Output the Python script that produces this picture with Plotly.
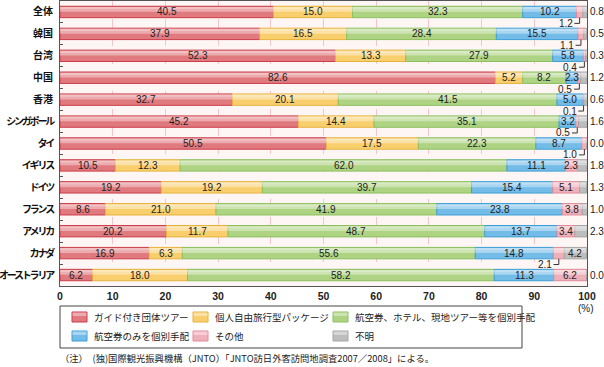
import plotly.graph_objects as go

countries = ["全体", "韓国", "台湾", "中国", "香港", "シンガポール", "タイ",
             "イギリス", "ドイツ", "フランス", "アメリカ", "カナダ", "オーストラリア"]
group_tour = [40.5, 37.9, 52.3, 82.6, 32.7, 45.2, 50.5, 10.5, 19.2, 8.6, 20.2, 16.9, 6.2]
package_tour = [15.0, 16.5, 13.3, 5.2, 20.1, 14.4, 17.5, 12.3, 19.2, 21.0, 11.7, 6.3, 18.0]
individual = [32.3, 28.4, 27.9, 8.2, 41.5, 35.1, 22.3, 62.0, 39.7, 41.9, 48.7, 55.6, 58.2]
air_only = [10.2, 15.5, 5.8, 2.3, 5.0, 3.2, 8.7, 11.1, 15.4, 23.8, 13.7, 14.8, 11.3]
other = [1.2, 1.1, 0.4, 0.5, 0.1, 0.5, 1.0, 2.3, 5.1, 3.8, 3.4, 2.1, 6.2]
unknown = [0.8, 0.5, 0.3, 1.2, 0.6, 1.6, 0.0, 1.8, 1.3, 1.0, 2.3, 4.2, 0.0]

series_names = ["ガイド付き団体ツアー", "個人自由旅行型パッケージ", "航空券、ホテル、現地ツアー等を個別手配",
                "航空券のみを個別手配", "その他", "不明"]
x_ticks = [0, 10, 20, 30, 40, 50, 60, 70, 80, 90, 100]
footnote = "（注）　(独)国際観光振興機構（JNTO）「JNTO訪日外客訪問地調査2007／2008」による。"

series = [group_tour, package_tour, individual, air_only, other, unknown]
fills = ["#e07a7e", "#f9cf6e", "#aed383", "#74bce8", "#f0b0ba", "#bdbdbd"]
lines = ["#cc3d4a", "#e6b23c", "#8cbf5e", "#3d9fd6", "#e08a9a", "#a6a6a6"]

W, H = 604, 367
L, R, T, B = 60, 587, 1, 286
BAR_W = 0.52
FONT = "Noto Sans CJK JP"

def px_x(px):
    return (px - L) / (R - L)

def px_y(py):
    return (B - py) / (B - T)

ypos = list(range(len(countries)))

# cumulative bases from data
bases = []
running = [0.0] * len(countries)
for vals in series:
    bases.append(list(running))
    running = [r + v for r, v in zip(running, vals)]

fig = go.Figure()
for name, vals, base, fc, lc in zip(series_names, series, bases, fills, lines):
    fig.add_trace(go.Bar(
        x=vals, y=ypos, base=base, orientation="h", name=name, width=BAR_W,
        marker=dict(color=fc, line=dict(color=lc, width=1)),
        textposition="none", showlegend=False,
    ))
# top highlight (gradient imitation)
for vals, base in zip(series, bases):
    fig.add_trace(go.Bar(
        x=vals, y=ypos, base=base, orientation="h", width=0.22, offset=-BAR_W / 2 + 0.03,
        marker=dict(color="rgba(255,255,255,0.38)", line=dict(width=0)),
        textposition="none", showlegend=False, hoverinfo="skip",
    ))
    fig.add_trace(go.Bar(
        x=vals, y=ypos, base=base, orientation="h", width=0.1, offset=-BAR_W / 2 + 0.03,
        marker=dict(color="rgba(255,255,255,0.25)", line=dict(width=0)),
        textposition="none", showlegend=False, hoverinfo="skip",
    ))

annotations = []
shapes = []
lab_font = dict(family="Liberation Sans, Arial", size=10, color="#222")

for i in ypos:
    for s, vals in enumerate(series):
        v = vals[i]
        c = bases[s][i] + v / 2
        inside = True
        if s == 4 and v < 2.2:
            inside = False
            annotations.append(dict(x=c, y=i + 0.52, xref="x", yref="y", text=f"{v:.1f}",
                                    showarrow=False, xanchor="right", yanchor="middle",
                                    xshift=-5, font=lab_font))
            shapes.append(dict(type="line", xref="x", yref="y", x0=c, x1=c,
                               y0=i + BAR_W / 2, y1=i + 0.52,
                               line=dict(color="#333", width=1)))
            shapes.append(dict(type="line", xref="x", yref="y", x0=c - 1.0, x1=c,
                               y0=i + 0.52, y1=i + 0.52,
                               line=dict(color="#333", width=1)))
        if s == 5 and v < 4:
            inside = False
            annotations.append(dict(x=1, y=i, xref="paper", yref="y", text=f"{v:.1f}",
                                    showarrow=False, xanchor="left", yanchor="middle",
                                    xshift=1, font=dict(family="Liberation Sans, Arial", size=10, color="#222")))
        if inside:
            annotations.append(dict(x=c, y=i, xref="x", yref="y", text=f"{v:.1f}",
                                    showarrow=False, xanchor="center", yanchor="middle",
                                    font=lab_font))

# legend (manual)
shapes.append(dict(type="rect", xref="paper", yref="paper",
                   x0=px_x(60), x1=px_x(522), y0=px_y(306), y1=px_y(348),
                   line=dict(color="#444", width=1), fillcolor="white", layer="below"))
col_x = [72, 193, 333]
row_y = [317, 336]
for k, name in enumerate(series_names):
    cx = col_x[k % 3]
    ry = row_y[k // 3]
    shapes.append(dict(type="rect", xref="paper", yref="paper",
                       x0=px_x(cx), x1=px_x(cx + 15), y0=px_y(ry - 5), y1=px_y(ry + 5),
                       fillcolor=fills[k], line=dict(color=lines[k], width=1)))
    shapes.append(dict(type="rect", xref="paper", yref="paper",
                       x0=px_x(cx + 0.5), x1=px_x(cx + 14.5), y0=px_y(ry - 1), y1=px_y(ry - 4.5),
                       fillcolor="rgba(255,255,255,0.38)", line=dict(width=0)))
    annotations.append(dict(x=px_x(cx + 20), y=px_y(ry), xref="paper", yref="paper",
                            text=name, showarrow=False, xanchor="left", yanchor="middle",
                            font=dict(family=FONT, size=9.5, color="#222")))

annotations.append(dict(x=px_x(586), y=px_y(308), xref="paper", yref="paper", text="(%)",
                        showarrow=False, xanchor="center", yanchor="middle",
                        font=dict(family="Liberation Sans, Arial", size=10, color="#222")))
annotations.append(dict(x=px_x(58), y=px_y(358), xref="paper", yref="paper", text=footnote,
                        showarrow=False, xanchor="left", yanchor="middle",
                        font=dict(family=FONT, size=9.3, color="#222")))

ticktext = []
for c in countries:
    if any("\u30a0" <= ch <= "\u30ff" for ch in c):
        ticktext.append(f'<b><span style="letter-spacing:-2.2px">{c}</span></b>')
    else:
        ticktext.append(f"<b>{c}</b>")

fig.update_layout(
    width=W, height=H, barmode="overlay",
    margin=dict(l=L, r=W - R, t=T, b=H - B, pad=0, autoexpand=False),
    paper_bgcolor="white", plot_bgcolor="#fdf6f4",
    font=dict(family=FONT, color="#222"),
    annotations=annotations, shapes=shapes,
    xaxis=dict(range=[0, 100], tickvals=x_ticks, ticktext=[f"<b>{t}</b>" for t in x_ticks],
               showgrid=True, gridcolor="#f2c6cb", griddash="dash", gridwidth=1,
               zeroline=False, showline=True, linecolor="#555", linewidth=1, mirror=True,
               ticks="", automargin=False,
               tickfont=dict(family="Liberation Sans, Arial", size=10.5, color="#222")),
    yaxis=dict(range=[len(countries) - 0.5, -0.5], tickvals=ypos, ticktext=ticktext,
               showgrid=False, zeroline=False, showline=True, linecolor="#555", linewidth=1,
               mirror=True, ticks="", ticklabelstandoff=4, automargin=False,
               tickfont=dict(family=FONT, size=10, color="#111"),
               minor=dict(tickvals=[i + 0.5 for i in ypos[:-1]], ticks="inside",
                          ticklen=3, tickcolor="#555", showgrid=False)),
)

fig.write_html("out.html", post_script="document.body.style.margin='0';",
               config={"displayModeBar": False})
